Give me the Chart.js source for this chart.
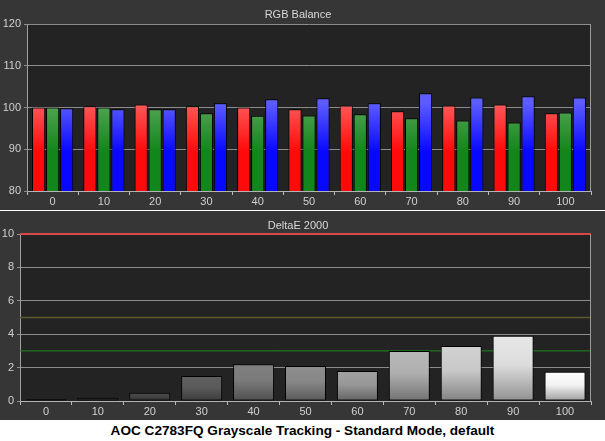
<!DOCTYPE html>
<html>
<head>
<meta charset="utf-8">
<script src="https://cdn.jsdelivr.net/npm/chart.js@4.4.1/dist/chart.umd.min.js"></script>
<style>
  html, body { margin: 0; padding: 0; background: #fff; }
  #wrap { position: relative; width: 605px; height: 441px; }
  canvas { position: absolute; left: 0; background: #363636; }
  #c1 { top: 0; }
  #c2 { top: 211px; }
  #caption {
    position: absolute; left: 0; top: 420px; width: 605px; height: 21px;
    text-align: center; font: bold 13.6px "Liberation Sans", sans-serif;
    line-height: 22px; color: #000;
  }
</style>
</head>
<body>
<div id="wrap">
  <canvas id="c1" width="605" height="210"></canvas>
  <canvas id="c2" width="605" height="209"></canvas>
  <div id="caption">AOC C2783FQ Grayscale Tracking - Standard Mode, default</div>
</div>
<script>
// grayscale steps (%)
const levels = ["0", "10", "20", "30", "40", "50", "60", "70", "80", "90", "100"];

// RGB balance, %
const redVals   = [100.0, 100.3, 100.7, 100.3, 100.0, 99.6, 100.5, 99.1, 100.5, 100.7, 98.6];
const greenVals = [100.0, 100.0, 99.6, 98.6, 98.0, 98.1, 98.4, 97.4, 96.9, 96.4, 98.8];
const blueVals  = [99.8, 99.6, 99.6, 101.0, 102.0, 102.2, 101.0, 103.4, 102.4, 102.7, 102.4];
const rgbTicks  = [80, 90, 100, 110, 120];

// DeltaE 2000 per step
const deltaE = [0.1, 0.2, 0.5, 1.5, 2.2, 2.1, 1.8, 3.0, 3.3, 3.9, 1.75];
const dETicks = [0, 2, 4, 6, 8, 10];
const dELimits = [
  { value: 3, color: "#1f8a1f", width: 1 },
  { value: 5, color: "#5e5a2c", width: 1.5 },
  { value: 10, color: "#d94848", width: 2 },
];

const grayTops = ["#2a2a2a", "#333333", "#484848", "#606060", "#808080", "#8e8e8e",
                  "#a0a0a0", "#b8b8b8", "#d2d2d2", "#e8e8e8", "#ffffff"];

const FONT = "'Liberation Sans', sans-serif";
const GRID = "#8c8c8c";
const LABEL = "#d0d0d0";

function shade(hex, f) {
  const n = parseInt(hex.slice(1), 16);
  const r = Math.round(((n >> 16) & 255) * f);
  const g = Math.round(((n >> 8) & 255) * f);
  const b = Math.round((n & 255) * f);
  return `rgb(${r},${g},${b})`;
}

// plot background, frame and title
const panel = {
  id: "panel",
  beforeDraw(chart, args, opts) {
    const { ctx, chartArea: a } = chart;
    ctx.save();
    ctx.fillStyle = "#232323";
    ctx.fillRect(a.left, a.top, a.right - a.left, a.bottom - a.top);
    ctx.restore();
  },
  afterDraw(chart, args, opts) {
    const { ctx, chartArea: a } = chart;
    ctx.save();
    ctx.strokeStyle = "#9a9a9a";
    ctx.lineWidth = 1;
    ctx.beginPath();
    ctx.moveTo(Math.round(a.right) - 0.5, a.top);
    ctx.lineTo(Math.round(a.right) - 0.5, a.bottom);
    ctx.stroke();
    ctx.fillStyle = "#d8d8d8";
    ctx.font = "11px " + FONT;
    ctx.textAlign = "center";
    ctx.textBaseline = "middle";
    ctx.fillText(opts.text, 298, opts.y);
    ctx.restore();
  },
};

// DeltaE reference lines, behind the bars
const limits = {
  id: "limits",
  beforeDatasetsDraw(chart) {
    const { ctx, chartArea: a, scales } = chart;
    ctx.save();
    dELimits.forEach(l => {
      const y = scales.y.getPixelForValue(l.value);
      ctx.strokeStyle = l.color;
      ctx.lineWidth = l.width;
      ctx.beginPath();
      ctx.moveTo(a.left, y);
      ctx.lineTo(a.right, y);
      ctx.stroke();
    });
    ctx.restore();
  },
};

function rgbFill(top, bottom) {
  return (c) => {
    const chart = c.chart;
    const a = chart.chartArea;
    if (!a) return bottom;
    const y0 = chart.scales.y.getPixelForValue(101);
    const g = chart.ctx.createLinearGradient(0, y0, 0, a.bottom);
    g.addColorStop(0, top);
    g.addColorStop(0.55, bottom);
    g.addColorStop(1, bottom);
    return g;
  };
}

function axes(yMin, yMax, step, leftW) {
  return {
    x: {
      afterFit(s) { s.height = 19; },
      grid: { drawOnChartArea: false, drawTicks: true, tickLength: 4, color: "#bbbbbb" },
      border: { color: "#b4b4b4" },
      ticks: { color: LABEL, font: { family: FONT, size: 11 }, padding: 0 },
    },
    y: {
      min: yMin, max: yMax,
      afterFit(s) { s.width = leftW; },
      afterBuildTicks(s) { s.ticks = (yMax === 120 ? rgbTicks : dETicks).map(v => ({ value: v })); },
      grid: { color: GRID, tickLength: 3 },
      border: { color: "#a0a0a0" },
      ticks: { color: LABEL, font: { family: FONT, size: 11 }, padding: 3 },
    },
  };
}

new Chart(document.getElementById("c1"), {
  type: "bar",
  data: {
    labels: levels,
    datasets: [
      { data: redVals, backgroundColor: rgbFill("#ff5a5a", "#ff0a0a") },
      { data: greenVals, backgroundColor: rgbFill("#55a455", "#12861a") },
      { data: blueVals, backgroundColor: rgbFill("#5c5cff", "#0808ff") },
    ].map(d => Object.assign(d, {
      borderColor: "#000", borderWidth: 1, borderSkipped: false,
      categoryPercentage: 0.82, barPercentage: 0.94,
    })),
  },
  options: {
    responsive: false,
    animation: false,
    layout: { padding: { top: 24, right: 14, bottom: 0, left: 0 } },
    plugins: { legend: { display: false }, tooltip: { enabled: false },
               panel: { text: "RGB Balance", y: 15 } },
    scales: axes(80, 120, 10, 27),
  },
  plugins: [panel],
});

new Chart(document.getElementById("c2"), {
  type: "bar",
  data: {
    labels: levels,
    datasets: [{
      data: deltaE,
      borderColor: "#000", borderWidth: 1, borderSkipped: false,
      categoryPercentage: 0.79, barPercentage: 1,
      backgroundColor: (c) => {
        const chart = c.chart;
        const a = chart.chartArea;
        const top = grayTops[c.dataIndex] || "#888888";
        if (!a || c.parsed == null) return top;
        const y0 = chart.scales.y.getPixelForValue(c.parsed.y);
        const g = chart.ctx.createLinearGradient(0, y0, 0, a.bottom);
        g.addColorStop(0, top);
        g.addColorStop(0.45, shade(top, 0.95));
        g.addColorStop(1, shade(top, 0.62));
        return g;
      },
    }],
  },
  options: {
    responsive: false,
    animation: false,
    layout: { padding: { top: 23, right: 14, bottom: 0, left: 0 } },
    plugins: { legend: { display: false }, tooltip: { enabled: false },
               panel: { text: "DeltaE 2000", y: 15 } },
    scales: axes(0, 10, 2, 20),
  },
  plugins: [panel, limits],
});
</script>
</body>
</html>
